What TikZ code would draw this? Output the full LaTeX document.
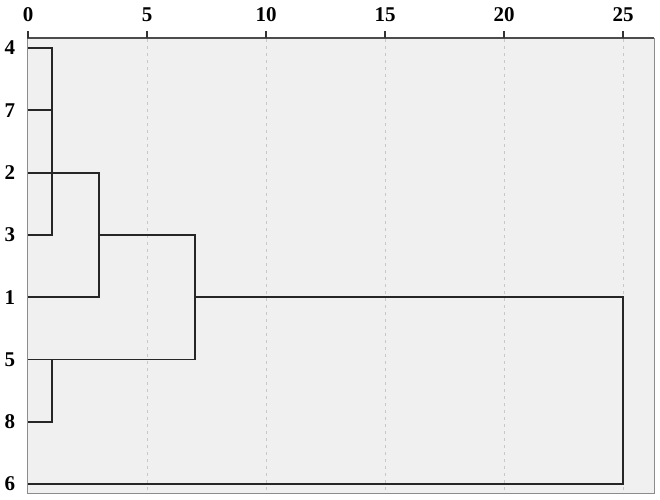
\documentclass[tikz,border=0pt]{standalone}
\usepackage{fontspec}
\setmainfont{Liberation Serif}
\usetikzlibrary{positioning}
\definecolor{panel}{HTML}{F0F0F0}
\definecolor{gridc}{HTML}{C8C8C8}
\definecolor{framec}{HTML}{8C8C8C}

\begin{document}
\begin{tikzpicture}[x=1pt, y=-1pt,
    lbl/.style={font=\bfseries\fontsize{21}{21}\selectfont, inner sep=0pt},
    link/.style={draw=black!85, line width=1.9pt},
    gridln/.style={draw=gridc, dash pattern=on 3pt off 4pt, line width=1pt}]
  \useasboundingbox (0,0) rectangle (660,499);

  % panel and frame
  \fill[panel] (27,38) rectangle (654,493);
  \foreach \k in {5,10,15,20,25}
    \draw[gridln] ({28+23.8*\k},39) -- ({28+23.8*\k},492);
  \draw[framec, line width=1pt] (27,38) rectangle (654,493);
  \draw[black!70, line width=1.4pt] (27,38) -- (654,38);

  % top axis
  \foreach \k in {0,5,10,15,20,25} {
    \draw[black!80, line width=1.4pt] ({28+23.8*\k},31) -- ({28+23.8*\k},38);
    \node[lbl] (t\k) at ({28+23.8*\k},15) {\k};
  }

  % leaf labels
  \foreach \c/\lab in {0/4, 1/7, 2/2, 3/3, 4/1, 5/5, 6/8, 7/6}
    \node[lbl] (n\lab) at (10,{48+62.3*\c}) {\lab};

  % dendrogram
  \begin{scope}[shift={(28,48)}, x=23.8pt, y=-62.3pt]
    \foreach \c/\lab in {0/4, 1/7, 2/2, 3/3, 4/1, 5/5, 6/8, 7/6}
      \coordinate (l\lab) at (0,\c);
    \coordinate (m47) at (1,0);
    \coordinate (m473) at (1,3);
    \coordinate (m2) at (3,2);
    \coordinate (m1) at (3,4);
    \coordinate (m58) at (1,6);
    \coordinate (mA) at (7,3);
    \coordinate (mB) at (7,5);
    \coordinate (mC) at (25,4);
    \coordinate (m6) at (25,7);

    \draw[link] (l4) -- (m47) -- (m473) -- (l3);
    \draw[link] (l7) -- (l7 -| m47);
    \draw[link] (l2) -- (m2) -- (m1) -- (l1);
    \draw[link] (l3 -| m2) -- (mA) -- (mB) -- (l5);
    \draw[link] (l5 -| m58) -- (m58) -- (l8);
    \draw[link] (l1 -| mA) -- (mC) -- (m6) -- (l6);
  \end{scope}
\end{tikzpicture}
\end{document}
